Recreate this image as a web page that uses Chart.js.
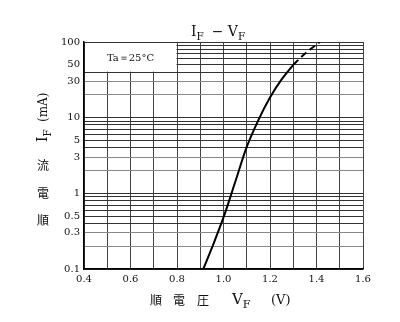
<!DOCTYPE html>
<html lang="ja">
<head>
<meta charset="UTF-8" />
<title>IF - VF</title>
<script src="https://cdn.jsdelivr.net/npm/chart.js"></script>
<style>
  html, body { margin: 0; padding: 0; background: #fff; }
  #wrap { width: 400px; height: 322px; }
</style>
</head>
<body>
<div id="wrap"><canvas id="myChart" width="400" height="322"></canvas></div>
<script>
// forward voltage (V) / forward current (mA), Ta = 25°C
const vfSolid = [0.913, 0.95, 1.0, 1.05, 1.1, 1.15, 1.2, 1.25, 1.3];
const ifSolid = [0.1, 0.19, 0.48, 1.4, 4.1, 9.3, 18.5, 32, 50];
const vfDash = [1.3, 1.35, 1.415];
const ifDash = [50, 70, 100];

const xTicks = [0.4, 0.6, 0.8, 1.0, 1.2, 1.4, 1.6];
const yTicks = [0.1, 0.3, 0.5, 1, 3, 5, 10, 30, 50, 100];

const serif = "'DejaVu Serif', 'Liberation Serif', serif";
const cjk = "'Noto Sans CJK JP', sans-serif";

// minor grid: every 0.1 V and 1..9 per decade
const xGrid = [];
for (let i = 4; i <= 16; i++) xGrid.push(i / 10);
const yGrid = [];
for (let d = 0.1; d < 100; d *= 10) {
  for (let m = 1; m < 10; m++) yGrid.push(+(m * d).toPrecision(3));
}
yGrid.push(100);

const toXY = (xs, ys) => xs.map((v, i) => ({ x: v, y: ys[i] }));

// writes a letter with a subscript, returns the width used
function subText(ctx, main, sub, x, y, size) {
  ctx.font = size + "px " + serif;
  ctx.fillText(main, x, y);
  const w = ctx.measureText(main).width;
  ctx.font = (size * 0.75) + "px " + serif;
  ctx.fillText(sub, x + w, y + size * 0.25);
  return w + ctx.measureText(sub).width;
}

const annotations = {
  id: "annotations",
  beforeDatasetsDraw(chart) {
    const { ctx, scales: { x, y }, chartArea } = chart;
    // condition box in the top-left corner
    const bx = x.getPixelForValue(0.8);
    const by = y.getPixelForValue(40);
    ctx.save();
    ctx.fillStyle = "#fff";
    ctx.fillRect(chartArea.left + 1, chartArea.top + 1, bx - chartArea.left - 1.5, by - chartArea.top - 1.5);
    ctx.fillStyle = "#111";
    ctx.font = "10px " + serif;
    ctx.textAlign = "center";
    ctx.textBaseline = "middle";
    ctx.fillText("Ta\uFF1D25\u00B0C", (chartArea.left + bx) / 2, chartArea.top + 16);
    ctx.restore();
  },
  afterDraw(chart) {
    const { ctx } = chart;
    ctx.save();
    ctx.fillStyle = "#111";
    ctx.textBaseline = "alphabetic";
    ctx.textAlign = "left";

    // title
    let tx = 191;
    tx += subText(ctx, "I", "F", tx, 36, 14);
    ctx.font = "14px " + serif;
    ctx.fillText("\u2212", tx + 8, 36);
    subText(ctx, "V", "F", tx + 24, 36, 14);

    // x axis title
    ctx.font = "12px " + cjk;
    ctx.textAlign = "center";
    ctx.fillText("順", 156, 305);
    ctx.fillText("電", 179, 305);
    ctx.fillText("圧", 203, 305);
    ctx.textAlign = "left";
    subText(ctx, "V", "F", 232, 304, 15);
    ctx.font = "13px " + serif;
    ctx.fillText("(V)", 271, 304);

    // y axis title, kanji upright, latin rotated
    ctx.font = "12px " + cjk;
    ctx.textAlign = "center";
    ctx.textBaseline = "middle";
    ctx.fillText("順", 43, 220);
    ctx.fillText("電", 43, 193);
    ctx.fillText("流", 43, 165);
    ctx.translate(47, 0);
    ctx.rotate(-Math.PI / 2);
    ctx.textAlign = "left";
    ctx.textBaseline = "alphabetic";
    subText(ctx, "I", "F", -142, 0, 14);
    ctx.font = "12px " + serif;
    ctx.fillText("(mA)", -122, 0);
    ctx.restore();
  }
};

new Chart(document.getElementById("myChart"), {
  type: "line",
  data: {
    datasets: [
      {
        data: toXY(vfSolid, ifSolid),
        borderColor: "#000",
        borderWidth: 2,
        pointRadius: 0,
        cubicInterpolationMode: "monotone",
        fill: false
      },
      {
        data: toXY(vfDash, ifDash),
        borderColor: "#000",
        borderWidth: 2,
        borderDash: [7, 4],
        pointRadius: 0,
        cubicInterpolationMode: "monotone",
        fill: false
      }
    ]
  },
  options: {
    responsive: false,
    animation: false,
    layout: { padding: { top: 42, right: 37, left: 0, bottom: 0 } },
    plugins: { legend: { display: false }, tooltip: { enabled: false } },
    scales: {
      x: {
        type: "linear",
        min: 0.4,
        max: 1.6,
        afterFit: s => { s.height = 53; },
        afterBuildTicks: s => { s.ticks = xGrid.map(v => ({ value: v })); },
        ticks: {
          autoSkip: false,
          maxRotation: 0,
          padding: 4,
          color: "#111",
          font: { family: serif, size: 10 },
          callback: v => xTicks.some(t => Math.abs(t - v) < 1e-6) ? v.toFixed(1) : ""
        },
        grid: { color: "#444", lineWidth: 1, drawTicks: false },
        border: { color: "#000", width: 1.5 }
      },
      y: {
        type: "logarithmic",
        min: 0.1,
        max: 100,
        afterFit: s => { s.width = 84; },
        afterBuildTicks: s => { s.ticks = yGrid.map(v => ({ value: v })); },
        ticks: {
          autoSkip: false,
          padding: 4,
          color: "#111",
          font: { family: serif, size: 10 },
          callback: v => yTicks.some(t => Math.abs(t - v) < 1e-6) ? String(v) : ""
        },
        grid: {
          drawTicks: false,
          lineWidth: 1,
          color: c => {
            const v = c.tick ? c.tick.value : 1;
            const m = Math.round(v / Math.pow(10, Math.floor(Math.log10(v) + 1e-9)));
            return (m === 2 || m === 3) ? "#888" : "#333";
          }
        },
        border: { color: "#000", width: 1.5 }
      }
    }
  },
  plugins: [annotations]
});
</script>
</body>
</html>
